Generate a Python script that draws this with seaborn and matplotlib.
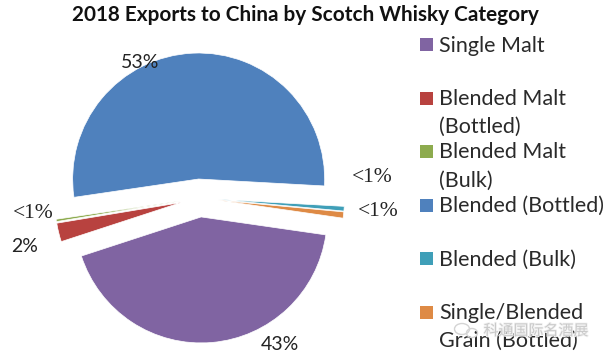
import matplotlib
matplotlib.use("Agg")
import matplotlib.pyplot as plt
import matplotlib.patheffects as pe
from matplotlib.patches import Rectangle, Ellipse
import seaborn as sns

sns.set_theme(style="white")
plt.rcParams['font.family'] = ['Lato', 'DejaVu Sans']

categories = ["Single Malt", "Blended Malt\n(Bottled)", "Blended Malt\n(Bulk)",
              "Blended (Bottled)", "Blended (Bulk)", "Single/Blended\nGrain (Bottled)"]
values = [42.7, 2.4, 0.3, 53.2, 0.6, 0.8]
labels = ["43%", "2%", "<1%", "53%", "<1%", "<1%"]
colors = ["#8064A2", "#B8423F", "#8DAB4E", "#4F81BD", "#3F9FB8", "#DE8A45"]
legend_y = [44.5, 98, 151.5, 205, 258.5, 312]
label_pos = [(280, 345), (25, 246), (33, 214), (140, 63), (372, 178), (378, 211)]
label_fonts = ['Lato', 'Lato', 'Liberation Serif', 'Lato', 'Liberation Serif', 'Liberation Serif']
label_sizes = [14, 14, 15.5, 14, 15.5, 15.5]

W, H = 608, 358
fig = plt.figure(figsize=(W / 100, H / 100), dpi=100)
ax = fig.add_axes([0, 0, 1, 1])

ax.pie(values, colors=colors, explode=[19] * len(values), startangle=-8.2, counterclock=False,
       center=(199.5, H - 198), radius=126, frame=True,
       wedgeprops=dict(linewidth=0.5, edgecolor="white"))
ax.set_xlim(0, W)
ax.set_ylim(0, H)
ax.set_aspect("equal")
ax.axis("off")

fig.text(305 / W, 1 - 15 / H, "2018 Exports to China by Scotch Whisky Category",
         ha="center", va="center", fontsize=14.95, fontweight="bold", color="#111111")

for (x, y), t, f, s in zip(label_pos, labels, label_fonts, label_sizes):
    ax.text(x, H - y, t, ha="center", va="center", fontsize=s, family=f, color="#222222")

for t, y, col in zip(categories, legend_y, colors):
    ax.add_patch(Rectangle((420, H - y - 6.5), 13, 13, color=col, lw=0))
    for i, line in enumerate(t.split("\n")):
        ax.text(439, H - (y + 7 + 28 * i), line, ha="left", va="baseline",
                fontsize=15.5, color="#2a2a2a")

# faint watermark over the last legend entry
ax.add_patch(Ellipse((462, H - 329), 15, 11, fill=False, ec="#d4d4d4", lw=1, zorder=5))
ax.add_patch(Ellipse((472, H - 333), 11, 9, fill=False, ec="#d4d4d4", lw=1, zorder=5))
fig.text(536 / W, 1 - 331 / H, "科通国际名酒展", ha="center", va="center", fontsize=10.8,
         family=['Noto Sans CJK SC', 'DejaVu Sans'], color="#c9c9c9", zorder=6,
         path_effects=[pe.withStroke(linewidth=1.2, foreground="#f2f2f2")])

fig.savefig("out.png", dpi=100)
